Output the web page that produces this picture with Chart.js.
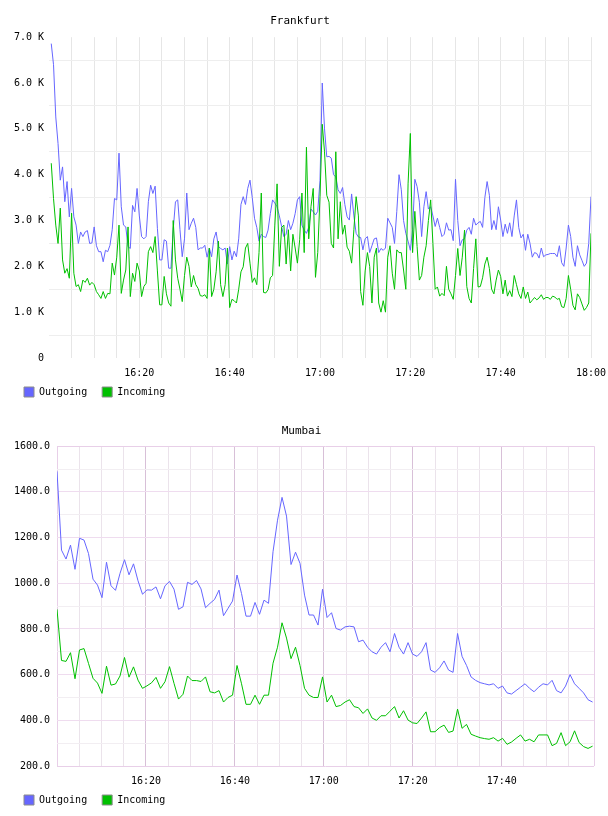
<!DOCTYPE html>
<html>
<head>
<meta charset="utf-8">
<script src="https://cdn.jsdelivr.net/npm/chart.js@4.4.1/dist/chart.umd.min.js"></script>
<style>
    html, body { margin: 0; padding: 0; background: #fff; }
    #wrap { position: relative; width: 608px; height: 816px; overflow: hidden; }
    .box { position: absolute; left: 0; width: 608px; height: 416px; }
    #topBox { top: 0; }
    #bottomBox { top: 408px; }
</style>
</head>
<body>
<div id="wrap">
    <div class="box" id="topBox"><canvas id="frankfurtChart" width="608" height="416"></canvas></div>
    <div class="box" id="bottomBox"><canvas id="mumbaiChart" width="608" height="416"></canvas></div>
</div>
<script>
/**
 * Traffic charts: Frankfurt and Mumbai, 16:00 - 18:00
 */

const FONT = '"DejaVu Sans Mono", monospace';
const SERIES_NAMES = ['Outgoing', 'Incoming'];
const SERIES_COLORS = ['#6666ff', '#00c000'];

// Frankfurt: samples every 30 s starting 16:00:30 (minutes after 16:00)
const frankfurtStart = 0.5;
const frankfurtStep = 0.5;
const frankfurtOutgoing = [
    6860, 6400, 5260, 4680, 3880, 4170, 3410, 3850, 3080, 3700,
    3080, 2900, 2500, 2750, 2650, 2750, 2780, 2500, 2510, 2860,
    2450, 2320, 2320, 2100, 2350, 2320, 2460, 2800, 3480, 3450,
    4470, 3300, 2900, 2860, 2430, 2390, 3330, 3190, 3700, 3100,
    2650, 2600, 2650, 3410, 3770, 3590, 3750, 2830, 2140, 2140,
    2580, 2550, 1960, 1960, 2800, 3410, 3450, 2800, 2210, 2600,
    3600, 2800, 2940, 3050, 2850, 2360, 2400, 2400, 2460, 2200,
    2400, 2210, 2600, 2750, 2430, 2390, 2360, 2400, 2050, 2430,
    2140, 2330, 2210, 2600, 3350, 3520, 3350, 3700, 3880, 3500,
    3050, 2850, 2550, 2700, 2650, 2630, 2790, 3150, 3450, 3380,
    3300, 3100, 2870, 2650, 2700, 3000, 2800, 2940, 3150, 3450,
    3520, 2900, 2790, 2720, 2850, 3250, 3190, 3120, 3200, 3880,
    6000, 5000, 4390, 4400, 4360, 4000, 3950, 3670, 3590, 3720,
    3350, 3080, 3010, 3580, 3100, 2720, 2640, 2630, 2360, 2600,
    2650, 2300, 2450, 2600, 2620, 2300, 2390, 2350, 2400, 3050,
    2950, 2850, 2500, 3200, 4000, 3670, 3000, 2720, 2550, 2350,
    2800, 3900, 3740, 3400, 2650, 3300, 3630, 3250, 3300, 3100,
    2870, 3050, 2850, 2650, 2700, 2950, 2790, 2800, 2560, 3900,
    3000, 2450, 2580, 2600, 2790, 2850, 2700, 3050, 2900, 2950,
    2980, 2850, 3500, 3850, 3550, 2800, 3000, 2800, 3300, 3010,
    2650, 2920, 2720, 2950, 2650, 3100, 3450, 2850, 2620, 2700,
    2350, 2700, 2500, 2200, 2300, 2280, 2180, 2400, 2210, 2250,
    2260, 2280, 2280, 2280, 2210, 2450, 2080, 2000, 2400, 2900,
    2650, 2200, 2000, 2450, 2250, 2130, 2000, 2070, 2500, 3520
];
const frankfurtIncoming = [
    4250, 3480, 2900, 2500, 3270, 2140, 1850, 1950, 1740, 3160,
    1850, 1560, 1600, 1450, 1700, 1650, 1740, 1590, 1650, 1600,
    1450, 1380, 1300, 1450, 1300, 1410, 1400, 2070, 1810, 2200,
    2900, 1410, 1700, 1920, 2860, 1340, 1850, 1670, 2070, 1900,
    1340, 1560, 1630, 2320, 2430, 2300, 2650, 1900, 1160, 1160,
    1780, 1400, 1200, 1130, 3000, 2140, 1740, 1500, 1230, 1800,
    2200, 2000, 1550, 1800, 1600, 1520, 1360, 1350, 1380, 1300,
    2400, 1340, 1500, 1880, 2550, 1600, 1340, 1600, 2400, 1100,
    1280, 1250, 1200, 1500, 1880, 1990, 2400, 2500, 2070, 1650,
    1750, 1600, 2300, 3600, 1430, 1420, 1490, 1750, 1800, 2900,
    3800, 2000, 2850, 2900, 2050, 2800, 1900, 2700, 2400, 2070,
    2580, 3600, 2300, 4600, 2600, 3300, 3700, 1760, 2300, 3520,
    5100, 4500, 3550, 3400, 2500, 2400, 4500, 2600, 3410, 2700,
    2900, 2420, 2330, 2070, 2800, 3520, 3100, 1450, 1150, 1900,
    2300, 2000, 1200, 2200, 2400, 1200, 1000, 1250, 1000, 2200,
    2450, 1850, 1500, 2360, 2300, 2300, 1920, 1500, 3800, 4900,
    2300, 3200, 2430, 1700, 1800, 2200, 2450, 3000, 3450, 2500,
    1500, 1550, 1350, 1410, 1360, 2000, 1500, 1400, 1280, 1800,
    2390, 1800, 2200, 2790, 1560, 1300, 1200, 1950, 2600, 1550,
    1560, 1750, 2050, 2200, 1950, 1500, 1400, 1700, 1920, 1780,
    1400, 1700, 1350, 1470, 1340, 1800, 1600, 1400, 1300, 1550,
    1300, 1440, 1200, 1260, 1320, 1270, 1310, 1380, 1280, 1320,
    1320, 1280, 1350, 1330, 1280, 1300, 1120, 1100, 1300, 1800,
    1500, 1150, 1050, 1400, 1320, 1180, 1040, 1100, 1200, 2720
];

// Mumbai: samples about once a minute starting 16:00
const mumbaiStart = 0;
const mumbaiStep = 1.012;
const mumbaiOutgoing = [
    1490, 1145, 1106, 1167, 1061, 1197, 1189, 1130, 1018, 992,
    937, 1092, 989, 969, 1043, 1103, 1037, 1085, 1011, 952,
    971, 970, 984, 932, 989, 1008, 974, 886, 897, 1004,
    995, 1012, 975, 893, 912, 929, 970, 858, 890, 922,
    1036, 955, 856, 856, 916, 864, 926, 912, 1138, 1276,
    1376, 1294, 1082, 1136, 1087, 948, 861, 861, 817, 974,
    850, 871, 802, 795, 809, 812, 809, 744, 751, 720,
    700, 690, 720, 740, 700, 780, 720, 690, 740, 690,
    680, 700, 740, 620, 610, 630, 660, 620, 610, 780,
    680, 640, 590, 575, 565, 560, 555, 560, 540, 550,
    520, 515, 530, 545, 560, 540, 525, 545, 560, 555,
    575, 530, 520, 550, 600, 560, 540, 520, 490, 480
];
const mumbaiIncoming = [
    886, 662, 658, 696, 582, 708, 714, 649, 584, 563,
    518, 637, 554, 559, 594, 675, 589, 634, 576, 540,
    551, 564, 588, 540, 569, 635, 562, 493, 514, 594,
    574, 574, 570, 590, 525, 520, 530, 480, 500, 510,
    640, 560, 470, 470, 510, 470, 510, 510, 650, 720,
    827, 760, 670, 720, 640, 540, 510, 500, 500, 590,
    480, 510, 460, 465, 480, 490, 460, 455, 430, 450,
    410, 400, 420, 420, 440, 460, 410, 442, 401, 389,
    386, 410, 437, 350, 350, 368, 379, 347, 353, 449,
    365, 382, 339, 331, 324, 320, 317, 324, 309, 321,
    295, 305, 321, 336, 309, 317, 306, 336, 336, 336,
    289, 299, 346, 289, 306, 354, 303, 285, 277, 287
];

// Axis settings (minutes after 16:00 on x)
const X_GRID_STEP = 5;
const X_LABEL_STEP = 20;
const frankfurtYMax = 7000;
const frankfurtYStep = 500;
const mumbaiYMin = 200;
const mumbaiYMax = 1600;
const mumbaiYStep = 100;

const CLEAR = 'rgba(0,0,0,0)';
const LEGEND_LIFT = 8;

/**
 * Turn a value list into {x, y} points on the minute axis
 */
function toPoints(values, start, step) {
    return values.map((v, i) => ({ x: start + i * step, y: v }));
}

/**
 * Minutes after 16:00 -> "HH:MM"
 */
function clockLabel(minutes) {
    const h = 16 + Math.floor(minutes / 60);
    const m = Math.round(minutes % 60);
    return h + ':' + String(m).padStart(2, '0');
}

function buildDatasets(outgoing, incoming, start, step) {
    return [outgoing, incoming].map((values, i) => ({
        label: SERIES_NAMES[i],
        data: toPoints(values, start, step),
        borderColor: SERIES_COLORS[i],
        backgroundColor: SERIES_COLORS[i],
        borderWidth: 1,
        pointRadius: 0,
        tension: 0,
        fill: false,
        order: i === 0 ? 1 : 0
    }));
}

function legendOptions() {
    return {
        position: 'bottom',
        align: 'start',
        labels: {
            boxWidth: 10,
            boxHeight: 10,
            padding: 15,
            color: '#000',
            font: { family: FONT, size: 10 },
            generateLabels: chart => chart.data.datasets.map((ds, i) => ({
                text: ds.label,
                fillStyle: ds.borderColor,
                strokeStyle: '#8c8c8c',
                lineWidth: 1,
                hidden: false,
                datasetIndex: i
            }))
        }
    };
}

// Pull the legend a little closer to the tick labels
const legendLift = {
    id: 'legendLift',
    afterLayout(chart) {
        if (chart.legend) {
            chart.legend.top -= LEGEND_LIFT;
            chart.legend.bottom -= LEGEND_LIFT;
        }
    }
};

/**
 * Frankfurt chart
 */
function createFrankfurtChart() {
    const ctx = document.getElementById('frankfurtChart');
    return new Chart(ctx, {
        type: 'line',
        data: { datasets: buildDatasets(frankfurtOutgoing, frankfurtIncoming, frankfurtStart, frankfurtStep) },
        plugins: [legendLift],
        options: {
            responsive: false,
            animation: false,
            events: [],
            layout: { padding: { left: 9, right: 17, top: 0, bottom: 1 } },
            plugins: {
                title: {
                    display: true,
                    text: 'Frankfurt',
                    color: '#000',
                    font: { family: FONT, size: 11, weight: 'normal' },
                    padding: { top: 15, bottom: 9 }
                },
                legend: legendOptions(),
                tooltip: { enabled: false }
            },
            scales: {
                x: {
                    type: 'linear',
                    min: 0,
                    max: 120,
                    border: { display: false },
                    grid: {
                        drawTicks: false,
                        color: c => (c.tick && c.tick.value === 0 ? CLEAR : '#e6e6e6')
                    },
                    ticks: {
                        stepSize: X_GRID_STEP,
                        autoSkip: false,
                        maxRotation: 0,
                        padding: 9,
                        color: '#000',
                        font: { family: FONT, size: 10 },
                        callback: v => (v > 0 && v % X_LABEL_STEP === 0 ? clockLabel(v) : '')
                    },
                    afterFit: s => { s.height = 22; s.paddingLeft = 0; s.paddingRight = 0; }
                },
                y: {
                    min: 0,
                    max: frankfurtYMax,
                    border: { display: false },
                    grid: {
                        drawTicks: false,
                        color: c => (c.tick && c.tick.value % 1000 === 500 ? '#eeeeee' : CLEAR)
                    },
                    ticks: {
                        stepSize: frankfurtYStep,
                        autoSkip: false,
                        padding: 5,
                        color: '#000',
                        font: { family: FONT, size: 10 },
                        callback: v => {
                            if (v % 1000 !== 0) return '';
                            return v === 0 ? '0' : (v / 1000).toFixed(1) + ' K';
                        }
                    },
                    afterFit: s => { s.width = 40; s.paddingTop = 0; s.paddingBottom = 0; }
                }
            }
        }
    });
}

/**
 * Mumbai chart
 */
function createMumbaiChart() {
    const ctx = document.getElementById('mumbaiChart');
    const edge = '#e8cfe8';
    return new Chart(ctx, {
        type: 'line',
        data: { datasets: buildDatasets(mumbaiOutgoing, mumbaiIncoming, mumbaiStart, mumbaiStep) },
        plugins: [legendLift],
        options: {
            responsive: false,
            animation: false,
            events: [],
            layout: { padding: { left: 9, right: 14, top: 0, bottom: 1 } },
            plugins: {
                title: {
                    display: true,
                    text: 'Mumbai',
                    color: '#000',
                    font: { family: FONT, size: 11, weight: 'normal' },
                    padding: { top: 17, bottom: 8 }
                },
                legend: legendOptions(),
                tooltip: { enabled: false }
            },
            scales: {
                x: {
                    type: 'linear',
                    min: 0,
                    max: 120.75,
                    border: { display: false },
                    grid: {
                        drawTicks: false,
                        color: c => {
                            const v = c.tick ? c.tick.value : 0;
                            if (v === 0 || v > 120) return edge;
                            return v % X_LABEL_STEP === 0 ? '#d8c0d8' : '#ebe3eb';
                        }
                    },
                    ticks: {
                        stepSize: X_GRID_STEP,
                        autoSkip: false,
                        maxRotation: 0,
                        padding: 9,
                        color: '#000',
                        font: { family: FONT, size: 10 },
                        callback: v => (v > 0 && v < 120 && v % X_LABEL_STEP === 0 ? clockLabel(v) : '')
                    },
                    afterFit: s => { s.height = 22; s.paddingLeft = 0; s.paddingRight = 0; }
                },
                y: {
                    min: mumbaiYMin,
                    max: mumbaiYMax,
                    border: { display: false },
                    grid: {
                        drawTicks: false,
                        color: c => {
                            const v = c.tick ? c.tick.value : 0;
                            if (v === mumbaiYMin || v === mumbaiYMax) return edge;
                            return v % 200 === 0 ? '#efdcef' : '#f2eef2';
                        }
                    },
                    ticks: {
                        stepSize: mumbaiYStep,
                        autoSkip: false,
                        padding: 7,
                        color: '#000',
                        font: { family: FONT, size: 10 },
                        callback: v => (v % 200 === 0 ? v.toFixed(1) : '')
                    },
                    afterFit: s => { s.width = 48; s.paddingTop = 0; s.paddingBottom = 0; }
                }
            }
        }
    });
}

createFrankfurtChart();
createMumbaiChart();
</script>
</body>
</html>
